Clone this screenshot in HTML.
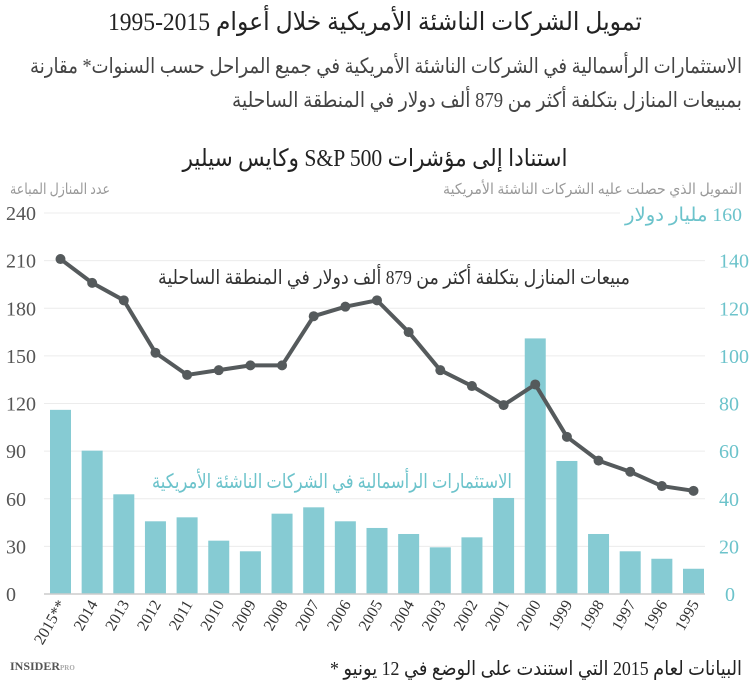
<!DOCTYPE html>
<html><head><meta charset="utf-8"><style>
body{margin:0;background:#fff}
svg text{font-family:"Liberation Serif","Noto Serif CJK SC","DejaVu Sans",serif}
.s{font-family:"Liberation Sans","DejaVu Sans",sans-serif}
</style></head><body>
<svg width="750" height="694" viewBox="0 0 750 694" xmlns="http://www.w3.org/2000/svg">
<text x="375" y="30" text-anchor="middle" font-size="25" fill="#222" direction="rtl" textLength="534" lengthAdjust="spacingAndGlyphs">تمويل الشركات الناشئة الأمريكية خلال أعوام 2015-1995</text>
<text x="742" y="73" text-anchor="start" font-size="21" fill="#444" direction="rtl" textLength="712" lengthAdjust="spacingAndGlyphs">الاستثمارات الرأسمالية في الشركات الناشئة الأمريكية في جميع المراحل حسب السنوات* مقارنة</text>
<text x="742" y="107" text-anchor="start" font-size="21" fill="#444" direction="rtl" textLength="510" lengthAdjust="spacingAndGlyphs">بمبيعات المنازل بتكلفة أكثر من 879 ألف دولار في المنطقة الساحلية</text>
<text x="375" y="166" text-anchor="middle" font-size="24" fill="#222" direction="rtl" textLength="385" lengthAdjust="spacingAndGlyphs">استنادا إلى مؤشرات S&amp;P 500 وكايس سيلير</text>
<text x="10" y="194" text-anchor="end" font-size="15" fill="#999" direction="rtl" textLength="100" lengthAdjust="spacingAndGlyphs">عدد المنازل المباعة</text>
<text x="742" y="194" text-anchor="start" font-size="15" fill="#999" direction="rtl" textLength="299" lengthAdjust="spacingAndGlyphs">التمويل الذي حصلت عليه الشركات الناشئة الأمريكية</text>
<text x="742" y="221" text-anchor="start" font-size="19" fill="#6cc3cb" direction="rtl" textLength="117" lengthAdjust="spacingAndGlyphs">160 مليار دولار</text>
<g stroke="#ececec" stroke-width="1">
<line x1="44" y1="213" x2="620" y2="213"/>
<line x1="44" y1="260.6" x2="705" y2="260.6"/>
<line x1="44" y1="308.3" x2="705" y2="308.3"/>
<line x1="44" y1="355.9" x2="705" y2="355.9"/>
<line x1="44" y1="403.5" x2="705" y2="403.5"/>
<line x1="44" y1="451.1" x2="705" y2="451.1"/>
<line x1="44" y1="498.8" x2="705" y2="498.8"/>
<line x1="44" y1="546.4" x2="705" y2="546.4"/>
</g>
<g class="s" font-size="20" fill="#555">
<text x="6" y="220">240</text><text x="6" y="267.6">210</text><text x="6" y="315.3">180</text><text x="6" y="362.9">150</text><text x="6" y="410.5">120</text><text x="6" y="458.1">90</text><text x="6" y="505.8">60</text><text x="6" y="553.4">30</text><text x="6" y="601">0</text>
</g>
<g class="s" font-size="20" fill="#6cc3cb">
<text x="719" y="267.6">140</text><text x="719" y="315.3">120</text><text x="719" y="362.9">100</text><text x="719" y="410.5">80</text><text x="719" y="458.1">60</text><text x="719" y="505.8">40</text><text x="719" y="553.4">20</text><text x="725" y="601">0</text>
</g>
<g fill="#86cbd3" id="bars"></g>
<line x1="44" y1="594" x2="705" y2="594" stroke="#ccc" stroke-width="1.5"/>
<polyline id="ln" fill="none" stroke="#555a5c" stroke-width="4" stroke-linejoin="round"/>
<g id="dots" fill="#555a5c"></g>
<g id="yrs" class="s" font-size="16" fill="#333"></g>
<text x="630" y="284" text-anchor="start" font-size="20" fill="#333" direction="rtl" textLength="472" lengthAdjust="spacingAndGlyphs">مبيعات المنازل بتكلفة أكثر من 879 ألف دولار في المنطقة الساحلية</text>
<text x="512" y="488" text-anchor="start" font-size="20" fill="#6cc3cb" direction="rtl" textLength="360" lengthAdjust="spacingAndGlyphs">الاستثمارات الرأسمالية في الشركات الناشئة الأمريكية</text>
<text x="742" y="675" text-anchor="start" font-size="20" fill="#222" direction="rtl" textLength="412" lengthAdjust="spacingAndGlyphs">البيانات لعام 2015 التي استندت على الوضع في 12 يونيو *</text>
<text x="10" y="670" font-size="12" fill="#555" font-weight="bold">INSIDER<tspan font-size="7" fill="#aaa">PRO</tspan></text>
</svg>
<script>
var yrs=["2015**","2014","2013","2012","2011","2010","2009","2008","2007","2006","2005","2004","2003","2002","2001","2000","1999","1998","1997","1996","1995"];
var bars=[116,90.3,62.8,45.8,48.3,33.6,26.9,50.6,54.6,45.8,41.6,37.8,29.4,35.7,60.5,161,83.8,37.8,26.9,22.2,15.9];
var line=[211,196,185,152,138,141,144,144,175,181,185,165,141,131,119,132,99,84,77,68,65];
var ns="http://www.w3.org/2000/svg",pts=[];
function Y(v){return 594-v*1.5875}
for(var i=0;i<21;i++){var cx=60.5+i*31.65;
var r=document.createElementNS(ns,"rect");r.setAttribute("x",cx-10.5);r.setAttribute("width",21);r.setAttribute("y",Y(bars[i]));r.setAttribute("height",bars[i]*1.5875);document.getElementById("bars").appendChild(r);
pts.push(cx+","+Y(line[i]));
var c=document.createElementNS(ns,"circle");c.setAttribute("cx",cx);c.setAttribute("cy",Y(line[i]));c.setAttribute("r",5);document.getElementById("dots").appendChild(c);
var t=document.createElementNS(ns,"text");t.setAttribute("transform","translate("+(cx+6)+",604) rotate(-60)");t.setAttribute("text-anchor","end");t.textContent=yrs[i];document.getElementById("yrs").appendChild(t);}
document.getElementById("ln").setAttribute("points",pts.join(" "));
</script>
</body></html>
